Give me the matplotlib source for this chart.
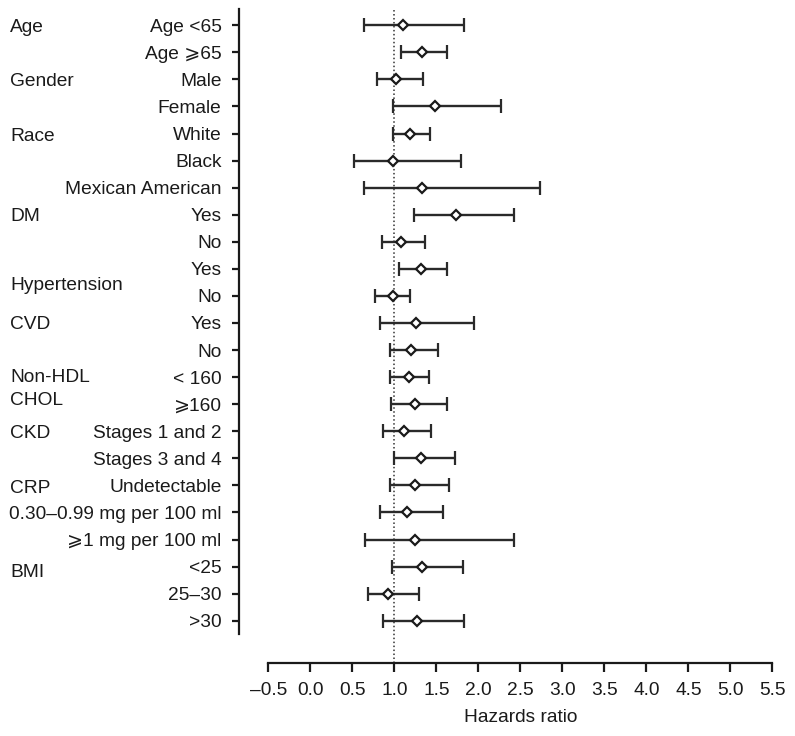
import matplotlib
matplotlib.use("Agg")
import matplotlib.pyplot as plt
import numpy as np

plt.rcParams['font.family'] = ['Liberation Sans', 'DejaVu Sans']

labels = ["Age <65", "Age \u2a7e65", "Male", "Female", "White", "Black",
          "Mexican American", "Yes", "No", "Yes", "No", "Yes", "No",
          "< 160", "\u2a7e160", "Stages 1 and 2", "Stages 3 and 4",
          "Undetectable", "0.30\u20130.99 mg per 100 ml", "\u2a7e1 mg per 100 ml",
          "<25", "25\u201330", ">30"]
hr = [1.10, 1.33, 1.02, 1.49, 1.19, 0.98, 1.33, 1.74, 1.08, 1.32, 0.98, 1.26,
      1.20, 1.18, 1.25, 1.12, 1.32, 1.25, 1.15, 1.25, 1.33, 0.93, 1.27]
lower = [0.64, 1.08, 0.79, 0.98, 0.98, 0.52, 0.64, 1.24, 0.85, 1.06, 0.77, 0.83,
         0.95, 0.95, 0.96, 0.87, 1.00, 0.95, 0.83, 0.65, 0.97, 0.69, 0.86]
upper = [1.83, 1.63, 1.34, 2.27, 1.43, 1.79, 2.74, 2.43, 1.36, 1.63, 1.19, 1.95,
         1.52, 1.41, 1.63, 1.44, 1.72, 1.65, 1.58, 2.42, 1.82, 1.29, 1.83]
groups = ["Age", "Gender", "Race", "DM", "Hypertension", "CVD", "Non-HDL",
          "CHOL", "CKD", "CRP", "BMI"]
group_rows = [0.1, 2.08, 4.12, 7.07, 9.63, 11.04, 13.0, 13.87, 15.07, 17.1, 20.2]
xticks = np.arange(-0.5, 5.51, 0.5)

fig = plt.figure(figsize=(7.95, 7.36), dpi=100)
ax = fig.add_axes([0.3006, 0.1386, 0.6761, 0.8488])

y = np.arange(len(labels))
hr = np.array(hr)
err = [hr - np.array(lower), np.array(upper) - hr]
ax.errorbar(hr, y, xerr=err, fmt='D', color='#2a2a2a', ecolor='#2a2a2a',
            elinewidth=1.7, capsize=4.8, capthick=1.7, markersize=5.6,
            markerfacecolor='white', markeredgecolor='#1a1a1a',
            markeredgewidth=1.6, zorder=3)

ax.axvline(1.0, ymin=-0.046, ymax=1, color='#333333', lw=1.1,
           linestyle=(0, (1, 1.6)), clip_on=False, zorder=1)

ax.set_xlim(-0.849, 5.55)
ax.set_ylim(22.49, -0.59)
ax.set_yticks(y)
ax.set_yticklabels(labels)
ax.set_xticks(xticks)
ax.set_xticklabels([f"{v:.1f}".replace("-", "\u2013") for v in xticks])

for s in ['top', 'right']:
    ax.spines[s].set_visible(False)
ax.spines['bottom'].set_bounds(-0.5, 5.5)
ax.spines['bottom'].set_position(('outward', 20.7))
for s in ['left', 'bottom']:
    ax.spines[s].set_linewidth(1.6)
    ax.spines[s].set_color('#1a1a1a')

ax.tick_params(axis='y', length=5, width=1.6, pad=7.5, labelsize=13.8,
               colors='#1a1a1a')
ax.tick_params(axis='x', length=6.5, width=1.6, pad=7.5, labelsize=13.8,
               colors='#1a1a1a')

ax.set_xlabel("Hazards ratio", fontsize=13.8, color='#1a1a1a', labelpad=7)
ax.xaxis.label.set_x((2.5 + 0.849) / (5.55 + 0.849))

for g, r in zip(groups, group_rows):
    ax.text(-0.426, r, g, transform=ax.get_yaxis_transform(), fontsize=13.8,
            ha='left', va='center', color='#1a1a1a')

fig.savefig("out.png", dpi=100)
